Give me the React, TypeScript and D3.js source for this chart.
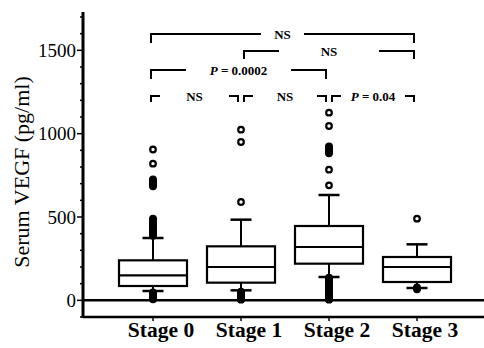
import { useRef, useEffect } from "react";
import { select, scaleLinear, scalePoint, range } from "d3";

const stages = ["Stage 0", "Stage 1", "Stage 2", "Stage 3"];
const lowerWhisker = [56, 60, 140, 74];
const q1 = [86, 106, 220, 110];
const medians = [150, 200, 320, 200];
const q3 = [240, 324, 446, 260];
const upperWhisker = [374, 484, 632, 336];
const outliers = [
  [6, 12, 18, 24, 30, 36, 42, 48, 388, 394, 400, 406, 412, 418, 424, 430, 436, 442, 448, 454, 460, 466, 472, 478, 484, 490,
    684, 690, 696, 702, 708, 714, 720, 726, 820, 905],
  [4, 10, 16, 22, 28, 34, 40, 46, 52, 590, 950, 1024],
  [4, 10, 16, 22, 28, 34, 40, 46, 52, 58, 64, 70, 76, 82, 88, 94, 100, 106, 112, 118, 124, 130, 136,
    690, 784, 882, 888, 894, 900, 906, 912, 918, 924, 1046, 1126],
  [66, 72, 78, 490],
];
const yTicks = [0, 500, 1000, 1500];
const comparisons = [
  { from: 0, to: 3, label: "NS", row: 0 },
  { from: 1, to: 3, label: "NS", row: 1 },
  { from: 0, to: 2, label: "P = 0.0002", row: 2 },
  { from: 0, to: 1, label: "NS", row: 3 },
  { from: 1, to: 2, label: "NS", row: 3 },
  { from: 2, to: 3, label: "P = 0.04", row: 3 },
];

const W = 484;
const H = 348;
const FONT = "'Liberation Serif', 'Times New Roman', serif";

export default function App() {
  const ref = useRef<SVGSVGElement | null>(null);

  useEffect(() => {
    const svg = select(ref.current!);
    svg.selectAll("*").remove();

    //scales
    const x = scalePoint<string>().domain(stages).range([153, 417]);
    const y = scaleLinear().domain([-100, 1730]).range([317, 12]);
    const axisX = 83;
    const boxW = 68;
    const capW = 21;

    //y axis
    svg.append("line")
      .attr("x1", axisX).attr("x2", axisX)
      .attr("y1", y(1730)).attr("y2", 318)
      .attr("stroke", "#000").attr("stroke-width", 3);
    const minor = range(-100, 1701, 100);
    svg.selectAll(".minor").data(minor).join("line")
      .attr("x1", (d) => axisX - (d % 500 === 0 ? 6 : 3))
      .attr("x2", axisX)
      .attr("y1", (d) => y(d)).attr("y2", (d) => y(d))
      .attr("stroke", "#000").attr("stroke-width", 1.5);
    svg.selectAll(".ylab").data(yTicks).join("text")
      .attr("x", 76).attr("y", (d) => y(d)).attr("dy", "0.35em")
      .attr("text-anchor", "end")
      .attr("font-family", FONT).attr("font-size", 19)
      .text((d) => d);
    svg.append("text")
      .attr("transform", `translate(29,172) rotate(-90)`)
      .attr("text-anchor", "middle")
      .attr("font-family", FONT).attr("font-size", 22)
      .text("Serum VEGF (pg/ml)");

    //zero line and x axis
    svg.append("line")
      .attr("x1", axisX).attr("x2", W).attr("y1", y(0)).attr("y2", y(0))
      .attr("stroke", "#000").attr("stroke-width", 2.5);
    svg.append("line")
      .attr("x1", axisX).attr("x2", W).attr("y1", 317).attr("y2", 317)
      .attr("stroke", "#000").attr("stroke-width", 2.5);
    svg.selectAll(".xtick").data(stages).join("line")
      .attr("x1", (d) => x(d)!).attr("x2", (d) => x(d)!)
      .attr("y1", 317).attr("y2", 321)
      .attr("stroke", "#000").attr("stroke-width", 1.5);
    svg.selectAll(".xlab").data(stages).join("text")
      .attr("x", (d) => x(d)! + 8).attr("y", 337)
      .attr("text-anchor", "middle")
      .attr("font-family", FONT).attr("font-size", 21.5).attr("font-weight", "bold")
      .text((d) => d);

    //boxes
    const g = svg.selectAll(".box").data(stages).join("g");
    g.append("line")
      .attr("x1", (d) => x(d)!).attr("x2", (d) => x(d)!)
      .attr("y1", (_, i) => y(upperWhisker[i])).attr("y2", (_, i) => y(q3[i]))
      .attr("stroke", "#000").attr("stroke-width", 2);
    g.append("line")
      .attr("x1", (d) => x(d)!).attr("x2", (d) => x(d)!)
      .attr("y1", (_, i) => y(lowerWhisker[i])).attr("y2", (_, i) => y(q1[i]))
      .attr("stroke", "#000").attr("stroke-width", 2);
    [upperWhisker, lowerWhisker].forEach((arr) => {
      g.append("line")
        .attr("x1", (d) => x(d)! - capW / 2).attr("x2", (d) => x(d)! + capW / 2)
        .attr("y1", (_, i) => y(arr[i])).attr("y2", (_, i) => y(arr[i]))
        .attr("stroke", "#000").attr("stroke-width", 2.5);
    });
    g.append("rect")
      .attr("x", (d) => x(d)! - boxW / 2).attr("width", boxW)
      .attr("y", (_, i) => y(q3[i]))
      .attr("height", (_, i) => y(q1[i]) - y(q3[i]))
      .attr("fill", "#fff").attr("stroke", "#000").attr("stroke-width", 2.2);
    g.append("line")
      .attr("x1", (d) => x(d)! - boxW / 2).attr("x2", (d) => x(d)! + boxW / 2)
      .attr("y1", (_, i) => y(medians[i])).attr("y2", (_, i) => y(medians[i]))
      .attr("stroke", "#000").attr("stroke-width", 2.2);

    //outliers: overlapping circles print as solid blobs
    const pts = outliers.flatMap((vals, i) =>
      vals.map((v) => ({ s: stages[i], v, dense: vals.some((o) => o !== v && Math.abs(o - v) < 10) }))
    );
    svg.selectAll(".out").data(pts).join("circle")
      .attr("cx", (d) => x(d.s)!).attr("cy", (d) => y(d.v)).attr("r", 2.8)
      .attr("fill", (d) => (d.dense ? "#000" : "#fff"))
      .attr("stroke", "#000").attr("stroke-width", 2.2);

    //significance brackets
    const rowY = [34, 51, 70, 96];
    const tickLen = [9, 8, 9, 6];
    const stub = [110, 35, 35, 9, 9, 9];
    comparisons.forEach((c, k) => {
      const x1 = x(stages[c.from])! + (c.from === 0 ? -2 : 3);
      const x2 = x(stages[c.to])! - 3;
      const yy = rowY[c.row];
      const mid = (x1 + x2) / 2;
      const t = svg.append("text")
        .attr("x", mid).attr("y", yy).attr("dy", "0.35em")
        .attr("text-anchor", "middle")
        .attr("font-family", FONT).attr("font-size", 13).attr("font-weight", "bold");
      if (c.label.startsWith("P")) {
        t.append("tspan").attr("font-style", "italic").text("P");
        t.append("tspan").text(c.label.slice(1));
      } else {
        t.text(c.label);
      }
      svg.append("path")
        .attr("d", `M${x1},${yy + tickLen[c.row]}V${yy}H${x1 + stub[k]}M${x2 - stub[k]},${yy}H${x2}V${yy + tickLen[c.row]}`)
        .attr("fill", "none").attr("stroke", "#000").attr("stroke-width", 2);
    });
  }, []);

  return (
    <svg
      ref={ref}
      width={W}
      height={H}
      style={{ position: "absolute", left: 0, top: 0, background: "#fff" }}
    ></svg>
  );
}
